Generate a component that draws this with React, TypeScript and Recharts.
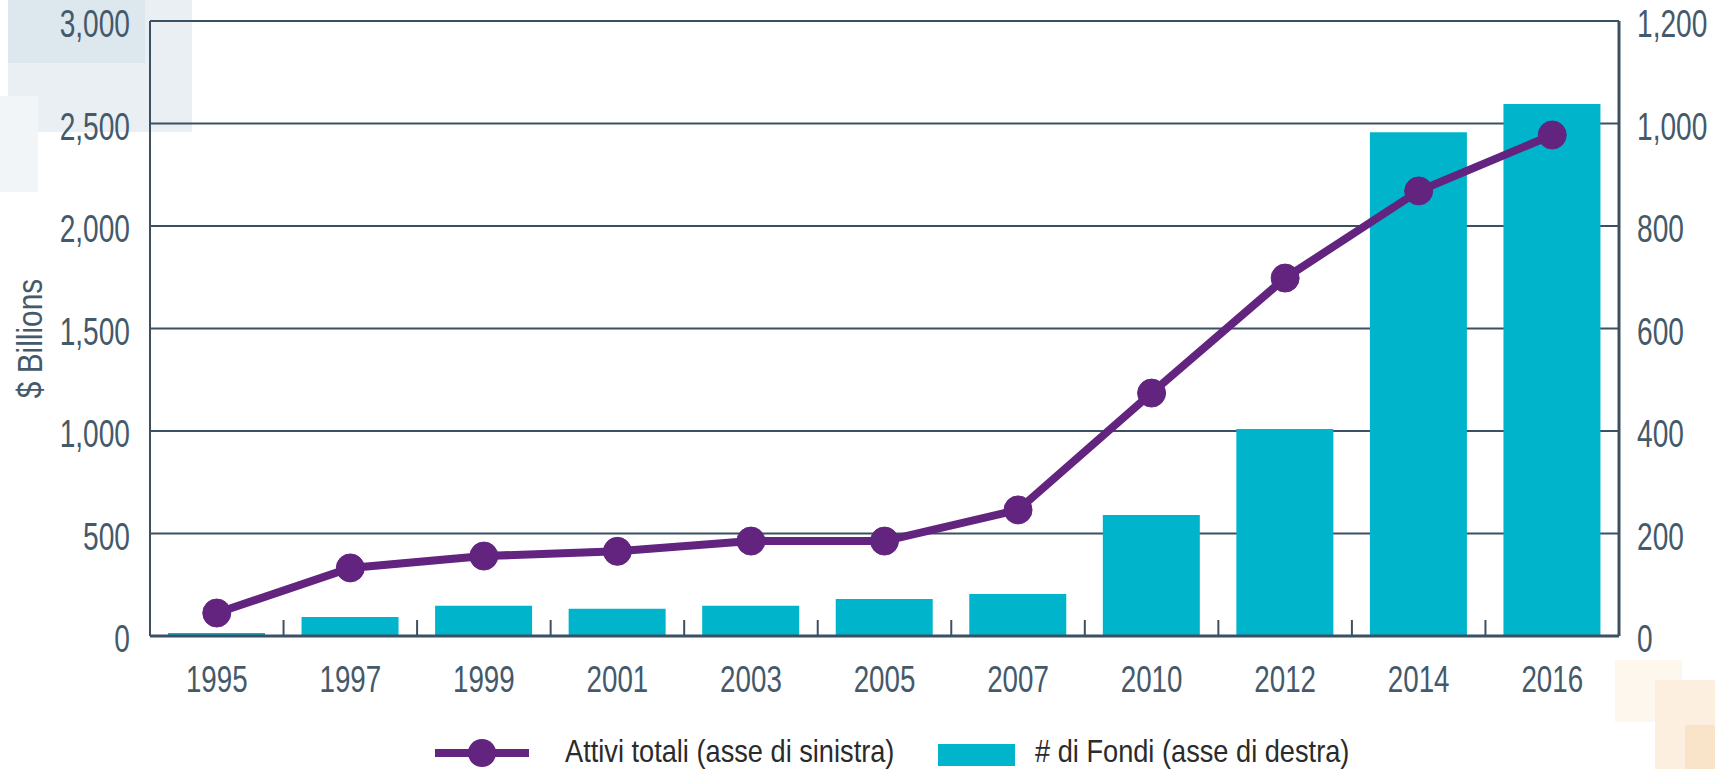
import { ComposedChart, Bar, Line, XAxis, YAxis, CartesianGrid } from "recharts";

const years = ["1995", "1997", "1999", "2001", "2003", "2005", "2007", "2010", "2012", "2014", "2016"];
const totalAssets = [112, 332, 390, 413, 463, 463, 615, 1185, 1746, 2171, 2444];
const fundCount = [6, 37, 59, 53, 59, 72, 82, 236, 404, 983, 1038];
const leftTicks = [0, 500, 1000, 1500, 2000, 2500, 3000];
const rightTicks = [0, 200, 400, 600, 800, 1000, 1200];

const data = years.map((year, i) => ({
  year,
  assets: totalAssets[i],
  funds: fundCount[i],
}));

const W = 1715;
const H = 769;
const LEFT_W = 150;
const RIGHT_W = 96;
const TOP = 21;
const X_H = 133;
const PLOT_H = H - TOP - X_H;
const STEP = (W - LEFT_W - RIGHT_W) / years.length;

const AXIS = "#3b5163";
const TEXT = "#44596a";
const PURPLE = "#62247f";
const CYAN = "#00b5cb";
const FONT = "'Liberation Sans', Arial, sans-serif";

const fmt = (v: number) => v.toLocaleString("en-US");

// condensed-looking text: regular sans squeezed horizontally
function NarrowText({ x, y, anchor = "start", size, squeeze, fill = TEXT, rotate = 0, baseline, children }: any) {
  return (
    <text
      transform={`translate(${x} ${y}) rotate(${rotate}) scale(${squeeze} 1)`}
      textAnchor={anchor}
      dominantBaseline={baseline}
      fontSize={size}
      fontFamily={FONT}
      fill={fill}
    >
      {children}
    </text>
  );
}

function YearTick({ x, y, payload, index }: any) {
  return (
    <g>
      {index > 0 && (
        <line x1={x - STEP / 2} x2={x - STEP / 2} y1={y} y2={y - 16} stroke={AXIS} strokeWidth={2} />
      )}
      <NarrowText x={x} y={y + 56} anchor="middle" size={37} squeeze={0.75}>
        {payload.value}
      </NarrowText>
    </g>
  );
}

function LeftTick({ x, y, payload }: any) {
  return (
    <NarrowText x={x} y={y + 3} anchor="end" size={38} squeeze={0.74} baseline="central">
      {fmt(payload.value)}
    </NarrowText>
  );
}

function RightTick({ x, y, payload }: any) {
  return (
    <NarrowText x={x} y={y + 3} anchor="start" size={38} squeeze={0.74} baseline="central">
      {fmt(payload.value)}
    </NarrowText>
  );
}

function AxisTitle({ viewBox }: any) {
  const cy = (viewBox?.y ?? TOP) + (viewBox?.height ?? PLOT_H) / 2 + 10;
  return (
    <NarrowText x={29} y={cy} anchor="middle" size={36} squeeze={0.83} rotate={-90} baseline="central">
      $ Billions
    </NarrowText>
  );
}

export default function App() {
  return (
    <div style={{ position: "absolute", left: 0, top: 0, width: W, height: H, background: "#fff", overflow: "hidden" }}>
      {/* background decoration */}
      <div style={{ position: "absolute", left: 8, top: 0, width: 184, height: 132, background: "#e9eff3" }} />
      <div style={{ position: "absolute", left: 8, top: 0, width: 137, height: 63, background: "#dde7ee" }} />
      <div style={{ position: "absolute", left: 0, top: 96, width: 38, height: 96, background: "#f2f5f8" }} />
      <div style={{ position: "absolute", left: 1615, top: 660, width: 67, height: 62, background: "#fdf7ee" }} />
      <div style={{ position: "absolute", left: 1655, top: 680, width: 60, height: 89, background: "#fcefdf" }} />
      <div style={{ position: "absolute", left: 1685, top: 725, width: 30, height: 44, background: "#fae4c9" }} />

      <div style={{ position: "absolute", left: 0, top: 0 }}>
        <ComposedChart width={W} height={H} data={data} margin={{ top: TOP, right: 0, bottom: 0, left: 0 }}>
          <CartesianGrid yAxisId="left" vertical={false} stroke={AXIS} strokeWidth={2} strokeOpacity={1} />
          <XAxis
            dataKey="year"
            height={X_H}
            tickLine={false}
            tickSize={0}
            tickMargin={0}
            axisLine={{ stroke: AXIS, strokeWidth: 3 }}
            tick={<YearTick />}
            interval={0}
          />
          <YAxis
            yAxisId="left"
            width={LEFT_W}
            domain={[0, 3000]}
            ticks={leftTicks}
            tickLine={false}
            tickSize={0}
            tickMargin={20}
            axisLine={{ stroke: AXIS, strokeWidth: 2 }}
            tick={<LeftTick />}
            label={<AxisTitle />}
          />
          <YAxis
            yAxisId="right"
            orientation="right"
            width={RIGHT_W}
            domain={[0, 1200]}
            ticks={rightTicks}
            tickLine={false}
            tickSize={0}
            tickMargin={18}
            axisLine={{ stroke: AXIS, strokeWidth: 3 }}
            tick={<RightTick />}
          />
          <Bar yAxisId="right" dataKey="funds" fill={CYAN} barSize={97} isAnimationActive={false} />
          <Line
            yAxisId="left"
            dataKey="assets"
            stroke={PURPLE}
            strokeWidth={8}
            dot={{ r: 14, fill: PURPLE, stroke: PURPLE, strokeWidth: 1 }}
            activeDot={false}
            isAnimationActive={false}
          />
        </ComposedChart>
      </div>

      {/* legend */}
      <svg width={W} height={40} style={{ position: "absolute", left: 0, top: 729 }}>
        <line x1={435} x2={529} y1={24} y2={24} stroke={PURPLE} strokeWidth={8} />
        <circle cx={482} cy={24} r={14} fill={PURPLE} />
        <NarrowText x={565} y={22} size={32} squeeze={0.85} fill="#2b2b2b" baseline="central">
          Attivi totali (asse di sinistra)
        </NarrowText>
        <rect x={938} y={15} width={77} height={22} fill={CYAN} />
        <NarrowText x={1035} y={22} size={32} squeeze={0.85} fill="#2b2b2b" baseline="central">
          # di Fondi (asse di destra)
        </NarrowText>
      </svg>
    </div>
  );
}
